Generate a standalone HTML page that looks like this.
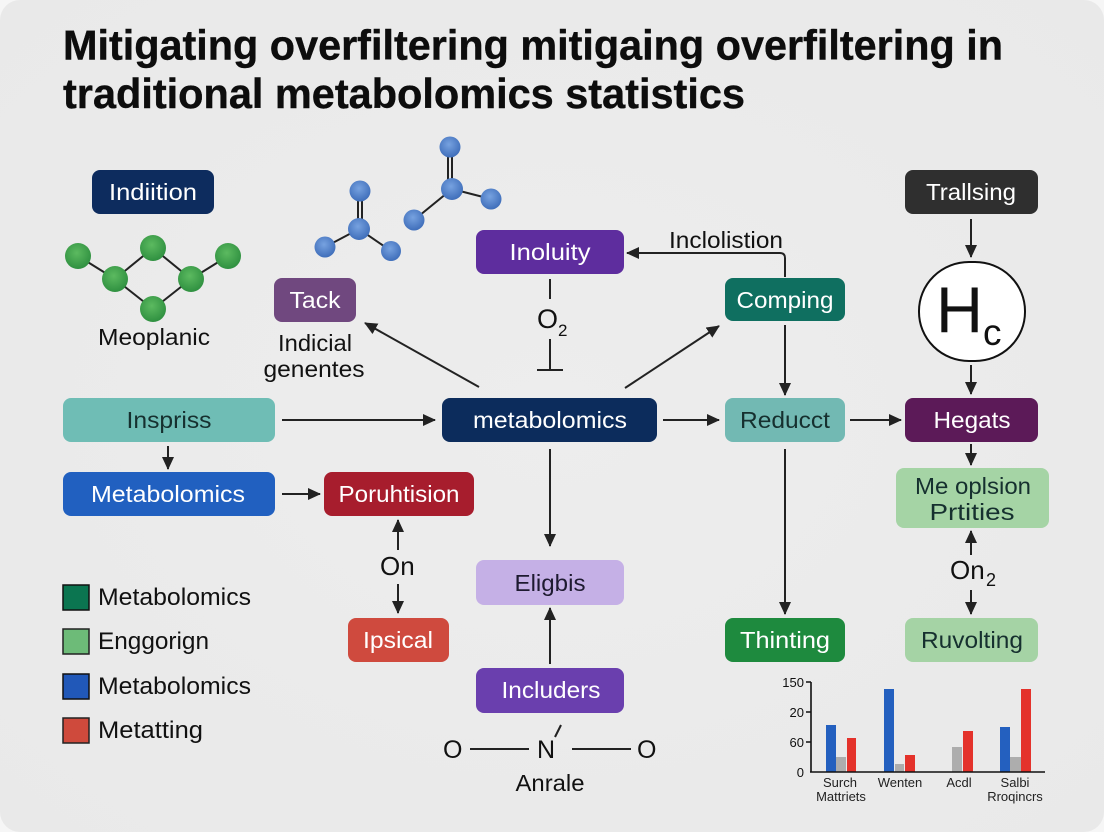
<!DOCTYPE html>
<html><head><meta charset="utf-8"><style>
html,body{margin:0;padding:0;background:#f6f6f6}
svg{display:block}
text{font-family:"Liberation Sans",sans-serif}
.n{font-size:23px;fill:#fff;text-anchor:middle}
.k{font-size:23px;fill:#111;text-anchor:middle}
.l{font-size:24px;fill:#111}
.t{font-size:13px;fill:#222;text-anchor:middle}
.a{font-size:13px;fill:#111;text-anchor:end}
.ln{stroke:#222;stroke-width:2;fill:none}
</style></head><body>
<svg width="1104" height="832" viewBox="0 0 1104 832" xmlns="http://www.w3.org/2000/svg">
<defs>
<radialGradient id="bg" cx="50%" cy="50%" r="70%"><stop offset="0" stop-color="#ededed"/><stop offset="1" stop-color="#e9e9e9"/></radialGradient>
<radialGradient id="g" cx="45%" cy="38%" r="62%"><stop offset="0" stop-color="#5cba60"/><stop offset="1" stop-color="#2f9040"/></radialGradient>
<radialGradient id="s" cx="45%" cy="38%" r="62%"><stop offset="0" stop-color="#77a2e0"/><stop offset="1" stop-color="#3f6eba"/></radialGradient>
<marker id="m" markerWidth="15" markerHeight="14" refX="12" refY="6" orient="auto" markerUnits="userSpaceOnUse"><path d="M0 0L13 6L0 12Z" fill="#222"/></marker>
</defs>
<rect width="1104" height="832" fill="#f6f6f6"/>
<rect x="0" y="0" width="1104" height="832" rx="20" fill="url(#bg)"/>

<text x="63" y="59.5" font-size="42" font-weight="700" fill="#0d0d0d" stroke="#0d0d0d" stroke-width=".4" textLength="940" lengthAdjust="spacingAndGlyphs">Mitigating overfiltering mitigaing overfiltering in</text>
<text x="63" y="108" font-size="42" font-weight="700" fill="#0d0d0d" stroke="#0d0d0d" stroke-width=".4" textLength="682" lengthAdjust="spacingAndGlyphs">traditional metabolomics statistics</text>

<!-- green molecule -->
<g stroke="#222" stroke-width="2"><path d="M78 256L115 279L153 248L191 279L228 256M115 279L153 309L191 279" fill="none"/></g>
<g fill="url(#g)"><circle cx="78" cy="256" r="13"/><circle cx="115" cy="279" r="13"/><circle cx="153" cy="248" r="13"/><circle cx="191" cy="279" r="13"/><circle cx="228" cy="256" r="13"/><circle cx="153" cy="309" r="13"/></g>

<!-- blue molecules -->
<g stroke="#222" stroke-width="2" fill="none"><path d="M358 195V229M362 195V229M325 247L359 229L391 251"/><path d="M448 150V189M452 150V189M414 220L452 189L491 199"/></g>
<g fill="url(#s)"><circle cx="360" cy="191" r="10.5"/><circle cx="359" cy="229" r="11"/><circle cx="325" cy="247" r="10.5"/><circle cx="391" cy="251" r="10"/><circle cx="450" cy="147" r="10.5"/><circle cx="452" cy="189" r="11"/><circle cx="414" cy="220" r="10.5"/><circle cx="491" cy="199" r="10.5"/></g>

<!-- connectors -->
<g class="ln">
<path d="M479 387L365 323" marker-end="url(#m)"/>
<path d="M282 420H435" marker-end="url(#m)"/>
<path d="M168 446V469" marker-end="url(#m)"/>
<path d="M282 494H320" marker-end="url(#m)"/>
<path d="M398 550V520" marker-end="url(#m)"/>
<path d="M398 584V613" marker-end="url(#m)"/>
<path d="M550 449V546" marker-end="url(#m)"/>
<path d="M550 664V608" marker-end="url(#m)"/>
<path d="M550 279V299M550 339V370M537 370H563"/>
<path d="M785 277V258Q785 253 780 253H627" marker-end="url(#m)"/>
<path d="M625 388L719 326" marker-end="url(#m)"/>
<path d="M785 325V395" marker-end="url(#m)"/>
<path d="M663 420H719" marker-end="url(#m)"/>
<path d="M850 420H901" marker-end="url(#m)"/>
<path d="M785 449V614" marker-end="url(#m)"/>
<path d="M971 219V257" marker-end="url(#m)"/>
<path d="M971 365V394" marker-end="url(#m)"/>
<path d="M971 444V465" marker-end="url(#m)"/>
<path d="M971 555V531" marker-end="url(#m)"/>
<path d="M971 590V614" marker-end="url(#m)"/>
<path d="M470 749H529M572 749H631"/>
<path d="M555 737L561 725"/>
</g>

<!-- nodes -->
<rect x="92" y="170" width="122" height="44" rx="8" fill="#0d2c5e"/><text class="n" x="153" y="200" textLength="88" lengthAdjust="spacingAndGlyphs">Indiition</text>
<rect x="905" y="170" width="133" height="44" rx="8" fill="#2f2f2f"/><text class="n" x="971" y="200" textLength="90" lengthAdjust="spacingAndGlyphs">Trallsing</text>
<rect x="476" y="230" width="148" height="44" rx="8" fill="#5e2d9e"/><text class="n" x="550" y="260" textLength="81" lengthAdjust="spacingAndGlyphs">Inoluity</text>
<rect x="274" y="278" width="82" height="44" rx="8" fill="#70487f"/><text class="n" x="315" y="308" textLength="51" lengthAdjust="spacingAndGlyphs">Tack</text>
<rect x="725" y="278" width="120" height="43" rx="8" fill="#0f6f60"/><text class="n" x="785" y="308" textLength="97" lengthAdjust="spacingAndGlyphs">Comping</text>
<rect x="63" y="398" width="212" height="44" rx="8" fill="#6fbdb5"/><text class="n" x="169" y="428" textLength="85" lengthAdjust="spacingAndGlyphs" style="fill:#16302f">Inspriss</text>
<rect x="442" y="398" width="215" height="44" rx="8" fill="#0c2c5c"/><text class="n" x="550" y="428" textLength="154" lengthAdjust="spacingAndGlyphs">metabolomics</text>
<rect x="725" y="398" width="120" height="44" rx="8" fill="#72b9b3"/><text class="n" x="785" y="428" textLength="90" lengthAdjust="spacingAndGlyphs" style="fill:#16302f">Reducct</text>
<rect x="905" y="398" width="133" height="44" rx="8" fill="#5c1a58"/><text class="n" x="972" y="428" textLength="77" lengthAdjust="spacingAndGlyphs">Hegats</text>
<rect x="63" y="472" width="212" height="44" rx="8" fill="#2160c0"/><text class="n" x="168" y="502" textLength="154" lengthAdjust="spacingAndGlyphs">Metabolomics</text>
<rect x="324" y="472" width="150" height="44" rx="8" fill="#a71d2d"/><text class="n" x="399" y="502" textLength="121" lengthAdjust="spacingAndGlyphs">Poruhtision</text>
<rect x="896" y="468" width="153" height="60" rx="8" fill="#a5d4a5"/><text class="n" x="973" y="494" textLength="116" lengthAdjust="spacingAndGlyphs" style="fill:#16302f">Me oplsion</text><text class="n" x="972" y="520" textLength="85" lengthAdjust="spacingAndGlyphs" style="fill:#16302f">Prtities</text>
<rect x="476" y="560" width="148" height="45" rx="8" fill="#c5b0e6"/><text class="n" x="550" y="591" textLength="71" lengthAdjust="spacingAndGlyphs" style="fill:#1e1a30">Eligbis</text>
<rect x="348" y="618" width="101" height="44" rx="8" fill="#cf4a3e"/><text class="n" x="398" y="648" textLength="70" lengthAdjust="spacingAndGlyphs">Ipsical</text>
<rect x="725" y="618" width="120" height="44" rx="8" fill="#1e8a3e"/><text class="n" x="785" y="648" textLength="90" lengthAdjust="spacingAndGlyphs">Thinting</text>
<rect x="905" y="618" width="133" height="44" rx="8" fill="#a5d3a5"/><text class="n" x="972" y="648" textLength="102" lengthAdjust="spacingAndGlyphs" style="fill:#16302f">Ruvolting</text>
<rect x="476" y="668" width="148" height="45" rx="8" fill="#6a3fae"/><text class="n" x="551" y="698" textLength="99" lengthAdjust="spacingAndGlyphs">Includers</text>

<!-- HC circle -->
<rect x="919" y="262" width="106" height="99" rx="50" ry="49" fill="#fff" stroke="#111" stroke-width="2"/>
<text x="936" y="332" font-size="65" fill="#111" textLength="47" lengthAdjust="spacingAndGlyphs">H</text>
<text x="983" y="345" font-size="37" fill="#111">c</text>

<!-- free labels -->
<text class="k" x="154" y="345" textLength="112" lengthAdjust="spacingAndGlyphs">Meoplanic</text>
<text class="k" x="315" y="351" textLength="74" lengthAdjust="spacingAndGlyphs">Indicial</text>
<text class="k" x="314" y="377" textLength="101" lengthAdjust="spacingAndGlyphs">genentes</text>
<text class="k" x="726" y="248" textLength="114" lengthAdjust="spacingAndGlyphs">Inclolistion</text>
<text x="537" y="328" font-size="27" fill="#111">O</text><text x="558" y="336" font-size="17" fill="#111">2</text>
<text x="380" y="575" font-size="26" fill="#111">On</text>
<text x="950" y="579" font-size="26" fill="#111">On</text><text x="986" y="586" font-size="18" fill="#111">2</text>
<text x="443" y="758" font-size="25" fill="#111">O</text>
<text x="537" y="758" font-size="25" fill="#111">N</text>
<text x="637" y="758" font-size="25" fill="#111">O</text>
<text class="k" x="550" y="791" textLength="69" lengthAdjust="spacingAndGlyphs">Anrale</text>

<!-- legend -->
<rect x="63" y="585" width="26" height="25" fill="#0b7550" stroke="#111" stroke-width="1.5"/><text class="l" x="98" y="605" textLength="153" lengthAdjust="spacingAndGlyphs">Metabolomics</text>
<rect x="63" y="629" width="26" height="25" fill="#6dbb78" stroke="#222" stroke-width="1.5"/><text class="l" x="98" y="649" textLength="111" lengthAdjust="spacingAndGlyphs">Enggorign</text>
<rect x="63" y="674" width="26" height="25" fill="#2158b8" stroke="#111" stroke-width="1.5"/><text class="l" x="98" y="694" textLength="153" lengthAdjust="spacingAndGlyphs">Metabolomics</text>
<rect x="63" y="718" width="26" height="25" fill="#cf4a3c" stroke="#222" stroke-width="1.5"/><text class="l" x="98" y="738" textLength="105" lengthAdjust="spacingAndGlyphs">Metatting</text>

<!-- chart -->
<g fill="#2460bf"><rect x="826" y="725" width="10" height="47"/><rect x="884" y="689" width="10" height="83"/><rect x="1000" y="727" width="10" height="45"/></g>
<g fill="#adadad"><rect x="836" y="757" width="10" height="15"/><rect x="895" y="764" width="9" height="8"/><rect x="952" y="747" width="10" height="25"/><rect x="1010" y="757" width="11" height="15"/></g>
<g fill="#e4322b"><rect x="847" y="738" width="9" height="34"/><rect x="905" y="755" width="10" height="17"/><rect x="963" y="731" width="10" height="41"/><rect x="1021" y="689" width="10" height="83"/></g>
<path d="M811 682V772M811 682H806M811 712H806M811 742H806M810 772H1045" stroke="#111" stroke-width="1.6" fill="none"/>
<text class="a" x="804" y="687">150</text><text class="a" x="804" y="717">20</text><text class="a" x="804" y="747">60</text><text class="a" x="804" y="777">0</text>
<text class="t" x="840" y="787">Surch</text><text class="t" x="841" y="801">Mattriets</text>
<text class="t" x="900" y="787">Wenten</text><text class="t" x="959" y="787">Acdl</text>
<text class="t" x="1015" y="787">Salbi</text><text class="t" x="1015" y="801">Rroqincrs</text>
</svg>
</body></html>
